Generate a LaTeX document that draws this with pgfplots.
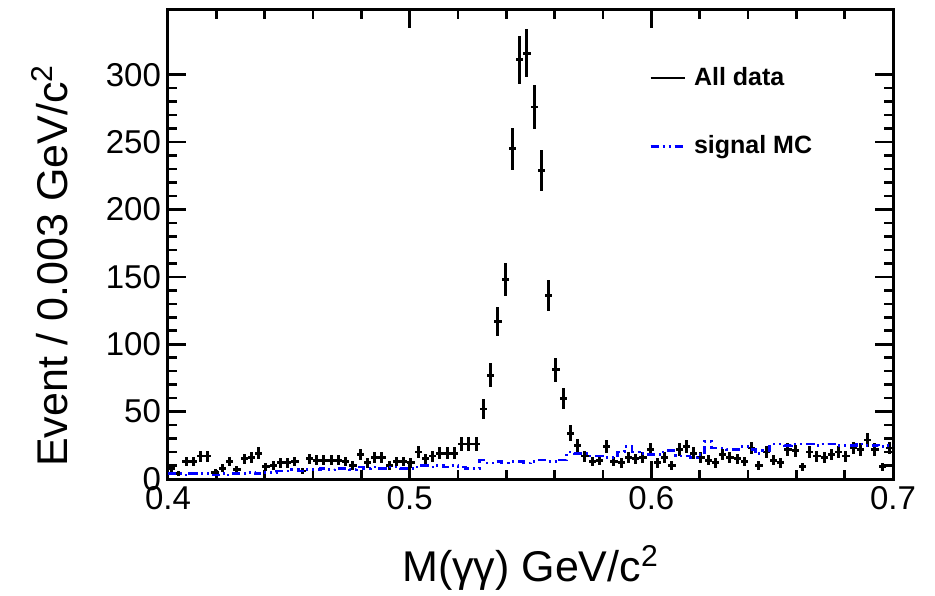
\documentclass[border=0pt]{standalone}
\usepackage{fontspec}
\setmainfont{Liberation Sans}
\usepackage{pgfplots}
\pgfplotsset{compat=1.18}
\usepackage{pgfplotstable}

\pgfplotstableread{
x y ey
0.4015 8 2.8
0.4045 4 2.0
0.4075 13 3.6
0.4105 13 3.6
0.4135 17 4.1
0.4165 17 4.1
0.4195 5 2.2
0.4225 8 2.8
0.4255 13 3.6
0.4285 7 2.6
0.4315 15 3.9
0.4345 16 4.0
0.4375 19 4.4
0.4405 9 3.0
0.4435 10 3.2
0.4465 12 3.5
0.4495 12 3.5
0.4525 13 3.6
0.4555 6 2.4
0.4585 15 3.9
0.4615 14 3.7
0.4645 14 3.7
0.4675 14 3.7
0.4705 14 3.7
0.4735 13 3.6
0.4765 10 3.2
0.4795 18 4.2
0.4825 12 3.5
0.4855 16 4.0
0.4885 16 4.0
0.4915 10 3.2
0.4945 13 3.6
0.4975 13 3.6
0.5005 12 3.5
0.5035 20 4.5
0.5065 15 3.9
0.5095 17 4.1
0.5125 19 4.4
0.5155 19 4.4
0.5185 19 4.4
0.5215 26 5.1
0.5245 26 5.1
0.5275 26 5.1
0.5305 52 7.2
0.5335 77 8.8
0.5365 117 10.8
0.5395 148 12.2
0.5425 245 15.7
0.5455 311 17.6
0.5485 316 17.8
0.5515 276 16.6
0.5545 229 15.1
0.5575 136 11.7
0.5605 81 9.0
0.5635 60 7.7
0.5665 34 5.8
0.5695 25 5.0
0.5725 17 4.1
0.5755 13 3.6
0.5785 14 3.7
0.5815 24 4.9
0.5845 13 3.6
0.5875 12 3.5
0.5905 16 4.0
0.5935 15 3.9
0.5965 16 4.0
0.5995 22 4.7
0.6025 12 3.5
0.6055 16 4.0
0.6085 10 3.2
0.6115 22 4.7
0.6145 24 4.9
0.6175 19 4.4
0.6205 16 4.0
0.6235 14 3.7
0.6265 12 3.5
0.6295 18 4.2
0.6325 16 4.0
0.6355 15 3.9
0.6385 13 3.6
0.6415 23 4.8
0.6445 10 3.2
0.6475 20 4.5
0.6505 14 3.7
0.6535 12 3.5
0.6565 22 4.7
0.6595 21 4.6
0.6625 9 3.0
0.6655 20 4.5
0.6685 17 4.1
0.6715 16 4.0
0.6745 18 4.2
0.6775 20 4.5
0.6805 17 4.1
0.6835 23 4.8
0.6865 22 4.7
0.6895 29 5.4
0.6925 22 4.7
0.6955 9 3.0
0.6985 23 4.8
}\datatable

\pgfplotstableread{
x m
0.400 4
0.403 4
0.406 3
0.409 4
0.412 4
0.415 4
0.418 3
0.421 4
0.424 3
0.427 4
0.430 4
0.433 5
0.436 4
0.439 5
0.442 5
0.445 6
0.448 6
0.451 7
0.454 6
0.457 7
0.460 7
0.463 8
0.466 7
0.469 8
0.472 8
0.475 7
0.478 9
0.481 8
0.484 9
0.487 8
0.490 9
0.493 9
0.496 8
0.499 8
0.502 9
0.505 10
0.508 9
0.511 10
0.514 9
0.517 10
0.520 9
0.523 8
0.526 8
0.529 14
0.532 12
0.535 13
0.538 12
0.541 13
0.544 13
0.547 12
0.550 13
0.553 14
0.556 13
0.559 13
0.562 14
0.565 20
0.568 19
0.571 19
0.574 17
0.577 17
0.580 16
0.583 16
0.586 20
0.589 24
0.592 20
0.595 19
0.598 18
0.601 18
0.604 20
0.607 21
0.610 17
0.613 17
0.616 16
0.619 18
0.622 28
0.625 23
0.628 23
0.631 22
0.634 22
0.637 24
0.640 22
0.643 19
0.646 21
0.649 26
0.652 26
0.655 25
0.658 26
0.661 26
0.664 26
0.667 25
0.670 26
0.673 26
0.676 25
0.679 25
0.682 25
0.685 26
0.688 25
0.691 25
0.694 24
0.697 25
0.700 25
}\mctable

\begin{document}
\begin{tikzpicture}
\path[use as bounding box] (-84pt,-58pt) rectangle (383.5pt,239.5pt);
\begin{axis}[
  at={(0pt,0pt)}, anchor=south west,
  scale only axis,
  width=362.5pt, height=234.5pt,
  xmin=0.4, xmax=0.7, ymin=0, ymax=348,
  xtick={0.4,0.5,0.6,0.7},
  xticklabels={0.4,0.5,0.6,0.7},
  ytick={0,50,100,150,200,250,300},
  minor x tick num=4, minor y tick num=4,
  tick align=inside,
  major tick length=9pt, minor tick length=4.5pt,
  axis line style={line width=1.5pt},
  every tick/.style={black, line width=1.3pt},
  /pgf/number format/assume math mode=true,
  ticklabel style={font=\fontsize{16.5}{19}\selectfont},
  xlabel={M(γγ) GeV/c\textsuperscript{2}},
  ylabel={Event / 0.003 GeV/c\textsuperscript{2}},
  label style={font=\fontsize{21.5}{25}\selectfont},
  xlabel style={at={(axis description cs:0.5,-0.19)}, anchor=center},
  ylabel style={at={(axis description cs:-0.163,0.455)}, anchor=center},
  legend style={at={(0.655,0.895)}, anchor=north west, draw=none, fill=none,
    font=\bfseries\fontsize{12.5}{14}\selectfont, row sep=19.5pt,
    nodes={inner xsep=4pt}},
  legend cell align=left,
]
\addplot[black, only marks, mark size=0pt, line width=1.4pt,
  error bars/.cd, x dir=both, x fixed=0.0015, y dir=both, y explicit,
  error mark=none, error bar style={line width=1.4pt, black}]
  table[x=x, y=y, y error=ey] {\datatable};
\addlegendimage{legend image code/.code={\draw[black, line width=0.9pt] (0pt,0pt) -- (17pt,0pt);}}
\addplot[blue, line width=1.3pt, const plot mark left,
  dash pattern=on 4pt off 2pt on 1pt off 2pt on 1pt off 2pt]
  table[x=x, y=m] {\mctable};
\legend{,All data,signal MC}
\end{axis}
\end{tikzpicture}
\end{document}
